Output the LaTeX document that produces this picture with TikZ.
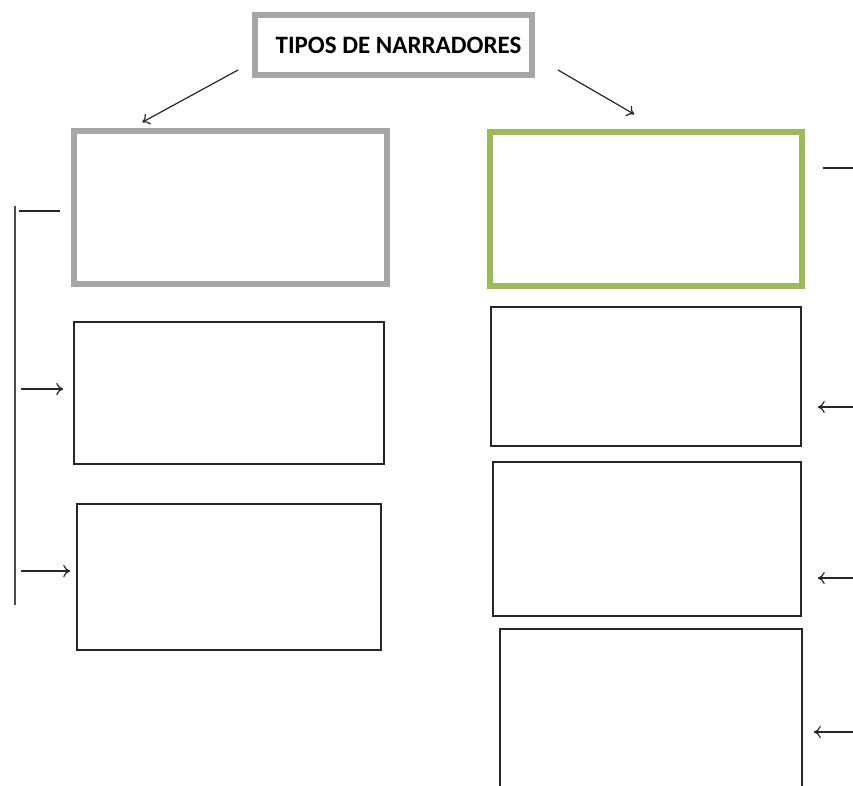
\documentclass[tikz,border=0pt]{standalone}
\usepackage{fontspec}
\setmainfont{Carlito}
\usetikzlibrary{calc,arrows,arrows.meta,positioning}

\definecolor{boxgray}{RGB}{166,166,166}
\definecolor{boxgreen}{RGB}{155,187,89}

\tikzset{
  titlebox/.style={draw=boxgray,line width=6.5pt,minimum width=277,minimum height=60,inner sep=0pt},
  typebox/.style={line width=5.5pt,inner sep=0pt},
  subbox/.style={draw=black!85,line width=1.5pt,inner sep=0pt},
  link/.style={black!85,line width=1.2pt,>={To[length=7pt,width=12pt]}}
}

\begin{document}
\begin{tikzpicture}[x=1pt,y=-1pt]
\useasboundingbox (0,0) rectangle (853,785);
\clip (0,0) rectangle (853,785);

% title and the two kinds
\node [titlebox] (title) at (393.5,45) {\fontsize{25}{30}\selectfont\bfseries\hspace*{10pt}TIPOS DE NARRADORES};
\node [typebox,draw=boxgray,minimum width=313,minimum height=153] (tgray) at (230.5,207.5) {};
\node [typebox,draw=boxgreen,minimum width=312,minimum height=154] (tgreen) at (646,209) {};

% boxes underneath
\foreach \name / \cx / \cy / \w / \h in {l1/229/393/310/142, l2/229/577/304/146,
    r1/646/376.5/310/139, r2/647/539/308/154, r3/651/714/302/170}
  \node [subbox,minimum width=\w,minimum height=\h] (\name) at (\cx,\cy) {};

% connectors
\coordinate (ta) at (238,70);
\coordinate (tb) at (558,70);
\draw [link,->] (ta) -- ($(tgray.north west)+(71,-6)$);
\draw [link,->] (tb) -- ($(tgreen.north west)+(147,-15)$);

\coordinate (lt) at (15,206);
\coordinate (lb) at (15,605);
\draw [black!70,line width=1.4pt] (lt) -- (lb);
\draw [link] ($(lt)+(4,5)$) -- ($(tgray.west)+(-11,3.5)$);
\draw [link,->] ($(l1.west)+(-52,-4)$) -- ($(l1.west)+(-10,-4)$);
\draw [link,->] ($(l2.west)+(-55,-6)$) -- ($(l2.west)+(-6,-6)$);

\draw [link] ($(tgreen.east)+(18,-41)$) -- +(33,0);
\draw [link,<-] ($(r1.east)+(16,30.5)$) -- +(37,0);
\draw [link,<-] ($(r2.east)+(16,39)$) -- +(37,0);
\draw [link,<-] ($(r3.east)+(11,18)$) -- +(41,0);

\end{tikzpicture}
\end{document}
